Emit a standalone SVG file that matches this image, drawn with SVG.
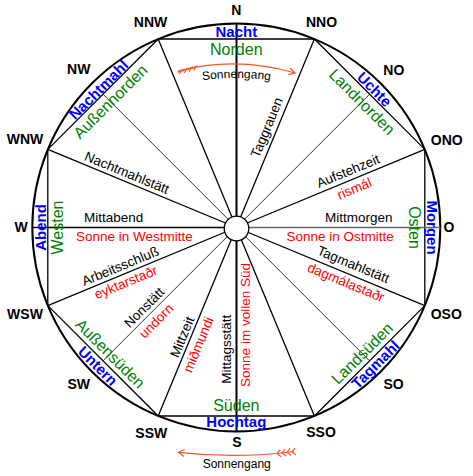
<svg xmlns="http://www.w3.org/2000/svg" width="473" height="476" viewBox="0 0 473 476">
<style>
text{font-family:"Liberation Sans",Arial,sans-serif;text-anchor:middle}
.c{font-size:14px;font-weight:bold;fill:#000}
.b{font-size:15px;font-weight:bold;fill:#0000ff}
.g{font-size:16px;fill:#008000}
.k{font-size:13.5px;fill:#000}
.r{font-size:13.5px;fill:#ff0000}
.s{font-size:12px;fill:#000}
.ln{stroke:#000;stroke-width:1.3;fill:none}
.th{stroke:#000;stroke-width:0.8;fill:none}
.ar{stroke:#f05a28;stroke-width:1.2;fill:none}
</style>
<defs>
<path id="arcTop" d="M166,88.1 A250,250 0 0 1 307,88.1"/>
</defs>
<rect width="473" height="476" fill="#fff"/>
<g id="connectors">
<circle cx="236.3" cy="227.5" r="204" fill="none" stroke="#000" stroke-width="2"/>
<polygon class="ln" points="158.2,39 314.4,39 424.8,149.4 424.8,305.6 314.4,416 158.2,416 47.8,305.6 47.8,149.4"/>
<path class="ln" d="M236.3,227.5L158.2,39M236.3,227.5L314.4,39M236.3,227.5L424.8,149.4M236.3,227.5L424.8,305.6M236.3,227.5L314.4,416M236.3,227.5L158.2,416M236.3,227.5L47.8,305.6M236.3,227.5L47.8,149.4"/>
<path class="th" d="M236.3,227.5L103,94.2M236.3,227.5L369.6,94.2M236.3,227.5L369.6,360.8M236.3,227.5L103,360.8"/>
<path class="ln" d="M32.3,227.5H236.3"/>
<path d="M236.3,227.5H440.3" stroke="#666" stroke-width="1.3"/>
<path d="M236.5,23.5V431.5" stroke="#000" stroke-width="2"/>
<circle cx="236.5" cy="228.5" r="12.3" fill="#fff" stroke="#000" stroke-width="1.3"/>
<path class="ar" d="M178,71 Q236,56 295,73 M290.1,68 L295,73 L288.2,74.7"/>
<path class="ar" d="M177.6,72.5L181.9,70L179.4,74.3M182.4,71.25L186.7,68.75L184.2,73.05M187.3,70L191.6,67.5L189.1,71.8M192.1,68.75L196.4,66.25L193.9,70.55"/>
<path class="ar" d="M294,451.5 Q236,459 178.3,452.3 M183.9,456.5 L178.3,452.3 L184.7,449.5"/>
<path class="ar" d="M296,454.8L292,451.8L295,447.8M291.1,455.4L287.1,452.4L290.1,448.4M286.1,456L282.1,453L285.1,449M281.1,456.7L277.1,453.7L280.1,449.7"/>
</g>
<g id="compass">
<text class="c" x="236.3" y="15">N</text>
<text class="c" x="321.5" y="26.7">NNO</text>
<text class="c" x="393.8" y="75">NO</text>
<text class="c" x="446.7" y="145">ONO</text>
<text class="c" x="449" y="231.7">O</text>
<text class="c" x="446.3" y="318.5">OSO</text>
<text class="c" x="393.5" y="389.3">SO</text>
<text class="c" x="321" y="437">SSO</text>
<text class="c" x="236.8" y="446.7">S</text>
<text class="c" x="151.3" y="437.7">SSW</text>
<text class="c" x="78.8" y="389.3">SW</text>
<text class="c" x="25" y="319.3">WSW</text>
<text class="c" x="21" y="231.7">W</text>
<text class="c" x="25" y="144.3">WNW</text>
<text class="c" x="78.7" y="74">NW</text>
<text class="c" x="150.5" y="26.7">NNW</text>
</g>
<g id="sector-N" transform="translate(236.3,39)">
<text class="b" x="0" y="-2.3">Nacht</text>
<text class="g" x="0" y="16">Norden</text>
</g>
<g id="sector-NO" transform="translate(369.6,94.2) rotate(45)">
<text class="b" x="0" y="-1.6">Uchte</text>
<text class="g" x="0" y="16.3">Landnorden</text>
</g>
<g id="sector-O" transform="translate(424.8,227.5) rotate(90)">
<text class="b" x="0" y="-2">Morgen</text>
<text class="g" x="0" y="16">Osten</text>
</g>
<g id="sector-SO" transform="translate(369.6,360.8) rotate(-45)">
<text class="b" x="1.5" y="12">Tagmahl</text>
<text class="g" x="0" y="-5">Landsüden</text>
</g>
<g id="sector-S" transform="translate(236.3,416)">
<text class="b" x="0" y="11.4">Hochtag</text>
<text class="g" x="0" y="-5.3">Süden</text>
</g>
<g id="sector-SW" transform="translate(103,360.8) rotate(45)">
<text class="b" x="0" y="12.6">Untern</text>
<text class="g" x="0" y="-4.7">Außensüden</text>
</g>
<g id="sector-W" transform="translate(47.8,227.5) rotate(-90)">
<text class="b" x="0" y="-1.8">Abend</text>
<text class="g" x="0" y="15.7">Westen</text>
</g>
<g id="sector-NW" transform="translate(103,94.2) rotate(-45)">
<text class="b" x="0" y="-1">Nachtmahl</text>
<text class="g" x="0" y="16">Außennorden</text>
</g>
<g id="sonnengang-top">
<text class="s"><textPath href="#arcTop" startOffset="50%">Sonnengang</textPath></text>
</g>
<g id="sonnengang-bottom">
<text class="s" x="236.7" y="468">Sonnengang</text>
</g>
<g id="spoke-NNO" transform="translate(236.3,227.5) rotate(-67.5)">
<text class="k" x="104" y="-5.5">Taggrauen</text>
</g>
<g id="spoke-WNW" transform="translate(236.3,227.5) rotate(22.5)">
<text class="k" x="-122" y="-4.2">Nachtmahlstätt</text>
</g>
<g id="spoke-W" transform="translate(236.3,227.5)">
<text class="k" x="-122.7" y="-5.2">Mittabend</text>
<text class="r" x="-102" y="13.5">Sonne in Westmitte</text>
</g>
<g id="spoke-WSW" transform="translate(236.3,227.5) rotate(-22.5)">
<text class="k" x="-122" y="-4.2">Arbeitsschluß</text>
<text class="r" x="-123" y="13">eyktarstaðr</text>
</g>
<g id="spoke-SW" transform="translate(236.3,227.5) rotate(-45)">
<text class="k" x="-121.7" y="-4">Nonstätt</text>
<text class="r" x="-122.7" y="14">undorn</text>
</g>
<g id="spoke-SSW" transform="translate(236.3,227.5) rotate(-67.5)">
<text class="k" x="-122" y="-3.5">Mittzeit</text>
<text class="r" x="-122.7" y="14.5">miðmundi</text>
</g>
<g id="spoke-S" transform="translate(236.3,227.5) rotate(-90)">
<text class="k" x="-121.7" y="-5">Mittagsstätt</text>
<text class="r" x="-97.5" y="13.5">Sonne im vollen Süd</text>
</g>
<g id="spoke-OSO" transform="translate(236.3,227.5) rotate(22.5)">
<text class="k" x="122.2" y="-6">Tagmahlstätt</text>
<text class="r" x="122.3" y="13.3">dagmálastaðr</text>
</g>
<g id="spoke-ONO" transform="translate(236.3,227.5) rotate(-22.5)">
<text class="k" x="124.9" y="-4.8">Aufstehzeit</text>
<text class="r" x="124" y="13.8">rismál</text>
</g>
<g id="spoke-O" transform="translate(236.3,227.5)">
<text class="k" x="122.5" y="-5.2">Mittmorgen</text>
<text class="r" x="103.8" y="13.2">Sonne in Ostmitte</text>
</g>
</svg>
